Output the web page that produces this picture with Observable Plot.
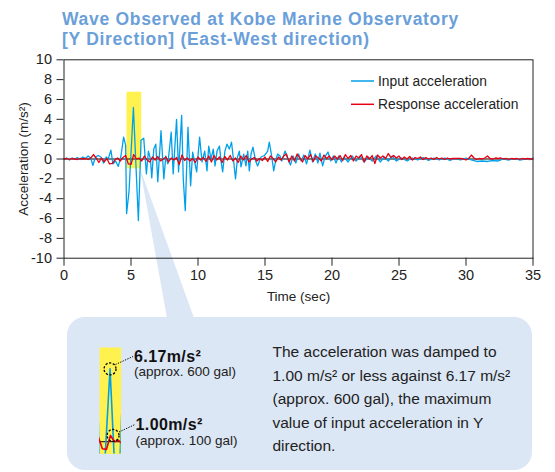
<!DOCTYPE html>
<html>
<head>
<meta charset="utf-8">
<script src="https://cdn.jsdelivr.net/npm/d3@7"></script>
<script src="https://cdn.jsdelivr.net/npm/@observablehq/plot@0.6"></script>
<style>
  body { margin: 0; background: #fff; font-family: "Liberation Sans", Arial, Helvetica, sans-serif; }
  #wrap { position: relative; width: 555px; height: 472px; overflow: hidden; background: #fff; }
  #title { padding: 8.6px 0 0 62px; height: 41.4px; line-height: 20.7px; font-size: 17.5px; font-weight: bold;
           color: #6b9fd9; letter-spacing: 0.7px; white-space: nowrap; }
  #chart { position: relative; z-index: 1; height: 262px; }
  .abs { position: absolute; left: 0; top: 0; }
</style>
</head>
<body>
<div id="wrap">
  <svg class="abs" width="555" height="472" style="z-index:0">
    <polygon points="140,168.3 167,318 194,318" fill="#dce7f5"></polygon>
  </svg>
  <div class="abs" style="left:66.7px;top:316.7px;width:465px;height:153px;border-radius:18px;background:#dce7f5;z-index:0"></div>
  <div id="title"><div>Wave Observed at Kobe Marine Observatory</div><div>[Y Direction] (East-West direction)</div></div>
  <div id="chart"></div>
  <div id="mini" class="abs" style="left:99px;top:346.7px;z-index:2"></div>
  <svg id="notes" class="abs" width="555" height="472" style="z-index:3"></svg>
</div>
<script>
// ---------------- data ----------------
const seriesNames = ["Input acceleration", "Response acceleration"];
const seriesColors = ["#00a0e9", "#e60012"];

const inputTime = [0, 0.2, 0.4, 0.6, 0.8, 1.0, 1.2, 1.4, 1.6, 1.8, 2.0, 2.15, 2.35, 2.55, 2.75, 2.95, 3.15, 3.3, 3.5, 3.65, 3.85, 4.05, 4.25,
  4.45, 4.6, 4.67, 4.85, 5.18, 5.55, 5.75, 5.95, 6.15, 6.3, 6.45, 6.55, 6.7, 6.85, 7.0, 7.24, 7.45, 7.6, 7.75, 8.0, 8.15, 8.4, 8.55, 8.78, 8.9, 9.05,
  9.25, 9.45, 9.6, 9.75, 9.9, 10.12, 10.3, 10.5, 10.67, 10.8, 10.97, 11.14, 11.27, 11.42, 11.6, 11.72, 11.84, 12.01, 12.16, 12.34, 12.5, 12.62,
  12.8, 12.95, 13.08, 13.21, 13.41, 13.58, 13.71, 13.83, 13.96, 14.1, 14.3, 14.45, 14.7, 14.95, 15.2, 15.32, 15.5, 15.65, 15.82, 15.95, 16.12,
  16.25, 16.5, 16.7, 16.9, 17.1, 17.3, 17.5, 17.7, 17.9, 18.1, 18.35, 18.55, 18.75, 18.95, 19.1, 19.3, 19.5, 19.7, 19.9, 20.1, 20.3, 20.5, 20.7,
  20.9, 21.2, 21.5, 21.8, 22.1, 22.4, 22.7, 23.0, 23.3, 23.6, 23.9, 24.2, 24.5, 24.8, 25.2, 25.6, 26.0, 26.4, 26.8, 27.2, 27.6, 28.0, 28.4, 28.8,
  29.2, 29.6, 30.0, 30.4, 30.8, 31.2, 31.6, 32.0, 32.4, 32.8, 33.2, 33.6, 34.0, 34.4, 34.8, 35.0];
const inputAccel = [0, 0.1, -0.1, 0.1, 0, 0.15, -0.05, 0.2, 0.05, 0.3, 0.1, -0.65, 0.2, 0.35, 0.2, -0.4, 0.2, 0, 0.9, -0.5, -0.2, -0.75, 0.3,
  2.2, 1.4, -5.5, -3.3, 5.2, -6.2, 1.9, 2.1, -1.5, 0.8, 0, -1.9, 1.0, 1.5, -2.3, 2.85, -2.0, 0.3, -0.5, 2.7, -1.5, 4.0, -1.3, 4.4, -2.0, -5.2,
  3.2, -2.7, 0.7, -0.3, -1.3, 2.2, -0.3, 0.8, -1.2, 1.3, 0, 1.0, -0.7, 0.8, 1.3, -0.2, -1.3, 0.8, 1.5, 1.0, 1.7, 0.3,
  -2.0, 0.2, 0.8, -0.8, 0.5, -0.7, 0.8, -1.2, 0.5, 1.2, -0.2, -0.7, 0.2, 0.35, 0.8, 1.7, 0.3, -1.2, 0, 0.5, 0.3,
  -0.2, 0.8, 0, -0.6, 0.3, -0.4, 0.5, -0.2, 0.4, -0.5, 0.9, -0.3, 0.5, -0.4, 0.6, -0.7, 0.3, 0.7, -0.2, 0.3, -0.4, 0.3, -0.3,
  0.2, -0.3, 0.3, -0.2, 0.3, -0.3, 0.2, -0.2, 0.3, -0.3, 0.2, -0.2, 0.3, -0.2, 0.1, -0.2, 0.1, -0.1, 0.15, -0.15, 0.1, -0.1, 0.1, -0.15,
  0.05, -0.1, 0.1, -0.1, -0.25, -0.2, -0.25, -0.15, -0.2, 0, -0.1, 0.05, -0.1, 0, -0.05, 0.1];

const responseStep = 0.2; // sampling interval of the response record (s)
const responseAccel = [0, 0.05, -0.05, 0.05, 0, -0.05, 0.05, 0, 0.05, -0.05,
  0.1, 0.45, 0.1, -0.35, 0.1, -0.3, 0.05, -0.5, -0.45, -0.1,
  0.1, -0.2, 0.15, 0.35, -0.5, -0.55, 0.45, 0, 0.1, -0.2,
  0.3, -0.1, -0.3, 0.2, -0.1, 0.25, -0.2, 0, 0.2, -0.3,
  0.1, -0.1, 0.15, -0.55, 0.4, -0.15, 0.1, -0.2, 0.05, -0.35,
  0.2, -0.1, 0.15, -0.25, 0.3, -0.3, 0.35, -0.1, 0.2, -0.35,
  0.25, -0.1, 0.35, -0.2, 0.1, -0.35, 0.3, -0.1, 0.35, -0.3,
  0, 0.15, -0.2, 0.05, -0.15, 0.2, -0.25, 0.3, 0.05, -0.3,
  0.2, -0.1, 0.3, 0.5, -0.3, 0.3, -0.2, 0.5, 0.1, -0.3,
  0.35, 0, 0.45, -0.25, 0.3, 0.1, -0.2, 0.4, 0.05, 0.3,
  -0.1, 0.3, 0, 0.35, -0.15, 0.45, 0.05, 0.35, -0.2, 0.3,
  0.1, 0.45, -0.3, 0.3, 0, 0.35, -0.45, 0.4, 0.1, 0.3,
  0.05, 0.55, 0.15, 0.35, 0.1, 0.3, -0.05, 0.2, 0, 0.25,
  -0.1, 0.15, 0.05, 0.2, -0.05, 0.15, 0, 0.1, -0.05, 0.15,
  0, 0.1, -0.05, 0.1, 0, 0.05, 0.05, 0.05, 0.05, 0,
  -0.1, 0.05, 0.4, 0.1, -0.05, 0.05, 0, 0.1, 0.3, 0.05,
  0, 0.1, 0.05, 0.1, 0, 0.05, -0.05, 0.05, 0, 0.05,
  -0.05, 0.05, 0, 0.05, 0, 0];

const xTicks = [0, 5, 10, 15, 20, 25, 30, 35];
const yTicks = [-10, -8, -6, -4, -2, 0, 2, 4, 6, 8, 10];
const highlight = [{t1: 4.7, t2: 5.8, v1: -1.0, v2: 6.73}];
const peakMarks = [{t: 5.18, v: 5.2}, {t: 5.33, v: 0.45}];
const peakLabels = [["6.17m/s²", "(approx. 600 gal)"], ["1.00m/s²", "(approx. 100 gal)"]];
const noteLines = ["The acceleration was damped to", "1.00 m/s² or less against 6.17 m/s²",
  "(approx. 600 gal), the maximum", "value of input acceleration in Y", "direction."];

// ---------------- tables ----------------
const inputData = inputTime.map((t, i) => ({t, v: inputAccel[i]}));
const responseData = responseAccel.map((v, i) => ({t: +(i * responseStep).toFixed(2), v}));

const font = '"Liberation Sans", Arial, Helvetica, sans-serif';
const yellow = "#fff24f";

const main = Plot.plot({
  width: 555, height: 262,
  marginTop: 9.3, marginBottom: 54.3, marginLeft: 63.5, marginRight: 22.5,
  x: {domain: [0, 35]},
  y: {domain: [-10, 10]},
  style: {background: "transparent", overflow: "visible", fontFamily: font, fontSize: "14px", color: "#222"},
  marks: [
    Plot.rect(highlight, {x1: "t1", x2: "t2", y1: "v1", y2: "v2", fill: yellow}),
    Plot.ruleY([0], {stroke: "#000", strokeWidth: 1}),
    Plot.line(inputData, {x: "t", y: "v", stroke: seriesColors[0], strokeWidth: 1.3}),
    Plot.line(responseData, {x: "t", y: "v", stroke: seriesColors[1], strokeWidth: 1.3}),
    Plot.frame({stroke: "#222", strokeWidth: 1}),
    Plot.axisX({ticks: xTicks, tickSize: 8, tickPadding: 4, label: null, fontSize: 14.5, tickFormat: d => String(d)}),
    Plot.axisY({ticks: yTicks, tickSize: 7, tickPadding: 5, label: null, fontSize: 14.5, tickFormat: d => String(d)}),
    Plot.text(["Time (sec)"], {frameAnchor: "bottom", lineAnchor: "middle", textAnchor: "middle", dy: 38.5, fontSize: 13.5, fill: "#222"}),
    Plot.text(["Acceleration (m/s²)"], {frameAnchor: "left", lineAnchor: "middle", textAnchor: "middle", rotate: -90, dx: -40, fontSize: 13.5, fill: "#222"})
  ]
});
document.getElementById("chart").appendChild(main);

const mini = Plot.plot({
  width: 21.7, height: 106.6, margin: 0,
  x: {domain: [4.66, 5.73], axis: null},
  y: {domain: [-0.88, 6.73], axis: null},
  style: {background: "transparent", overflow: "visible"},
  marks: [
    Plot.frame({fill: yellow, stroke: "none"}),
    Plot.ruleY([0], {stroke: "#000", strokeWidth: 1}),
    Plot.line(inputData, {x: "t", y: "v", stroke: seriesColors[0], strokeWidth: 1.6, clip: true}),
    Plot.line(responseData, {x: "t", y: "v", stroke: seriesColors[1], strokeWidth: 1.6, clip: true}),
    Plot.dot(peakMarks, {x: "t", y: "v", r: 6, stroke: "#000", strokeWidth: 1.3, strokeDasharray: "2.2,1.6", fill: "none"})
  ]
});
document.getElementById("mini").appendChild(mini);

// ---------------- annotations (legend, callout text) ----------------
const notes = d3.select("#notes");
const legendY = [81, 104.3];
seriesNames.forEach((name, i) => {
  notes.append("line").attr("x1", 351).attr("x2", 374).attr("y1", legendY[i]).attr("y2", legendY[i])
    .attr("stroke", seriesColors[i]).attr("stroke-width", 1.5);
  notes.append("text").attr("x", 378).attr("y", legendY[i] + 4.8).text(name)
    .attr("font-family", font).attr("font-size", 13.8).attr("fill", "#222");
});

const leaders = [[115.5, 364.5, 133, 356.5], [119, 432, 135, 424.5]];
leaders.forEach(([x1, y1, x2, y2]) => notes.append("line").attr("x1", x1).attr("y1", y1).attr("x2", x2).attr("y2", y2)
  .attr("stroke", "#000").attr("stroke-width", 1).attr("stroke-dasharray", "1.3,1.3"));

const labelPos = [[134, 361.7, 376], [135.5, 430, 445]];
peakLabels.forEach(([big, small], i) => {
  const [x, y1, y2] = labelPos[i];
  notes.append("text").attr("x", x).attr("y", y1).text(big)
    .attr("font-family", font).attr("font-size", 16).attr("font-weight", "bold").attr("letter-spacing", 0.4).attr("fill", "#111");
  notes.append("text").attr("x", x).attr("y", y2).text(small)
    .attr("font-family", font).attr("font-size", 13.5).attr("fill", "#222");
});

const noteBase = [357.3, 381, 404.3, 428, 450.7];
noteLines.forEach((line, i) => notes.append("text").attr("x", 272.5).attr("y", noteBase[i]).text(line)
  .attr("font-family", font).attr("font-size", 15.5).attr("fill", "#222"));
</script>
</body>
</html>
